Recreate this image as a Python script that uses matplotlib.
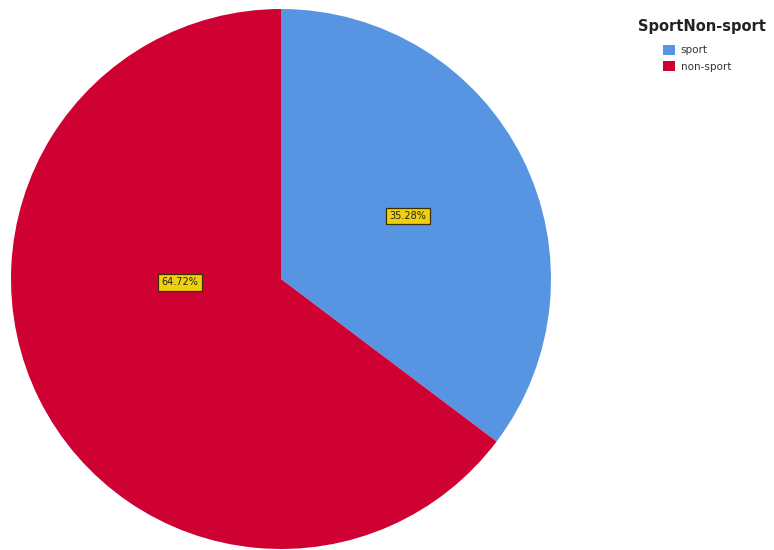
import matplotlib
matplotlib.use("Agg")
import matplotlib.pyplot as plt
from matplotlib.patches import Patch

categories = ["sport", "non-sport"]
shares = [35.28, 64.72]
colors = ["#5795E2", "#CF0032"]
legend_title = "SportNon-sport"

fig = plt.figure(figsize=(7.74, 5.5), dpi=100)
ax = fig.add_axes([11 / 774, 1 / 550, 540 / 774, 540 / 550])

wedges, _ = ax.pie(shares, colors=colors, startangle=90, counterclock=False,
                   radius=1.0, wedgeprops=dict(linewidth=0))
ax.set_xlim(-1, 1)
ax.set_ylim(-1, 1)
ax.set_aspect("equal")
ax.axis("off")

# percentage labels in yellow boxes
label_pos = [(0.47, 0.233), (-0.375, -0.012)]
box = dict(boxstyle="square,pad=0.35", fc="#EFCF10", ec="#3a3000", lw=0.9)
for val, (x, y) in zip(shares, label_pos):
    ax.text(x, y, f"{val:.2f}%", ha="center", va="center", fontsize=7,
            color="#222222", bbox=box)

# legend
fig.text(702 / 774, 1 - 27 / 550, legend_title, ha="center", va="center",
         fontsize=10.5, fontweight="bold", color="#222222")
handles = [Patch(facecolor=c, edgecolor="none") for c in colors]
leg = fig.legend(handles, categories, loc="upper left",
                 bbox_to_anchor=(663 / 774, 1 - 45 / 550), frameon=False,
                 fontsize=7.5, handlelength=1.15, handleheight=1.05,
                 handletextpad=0.55, labelspacing=0.55, borderaxespad=0,
                 borderpad=0)
for t in leg.get_texts():
    t.set_color("#333333")

fig.savefig("out.png", dpi=100)
